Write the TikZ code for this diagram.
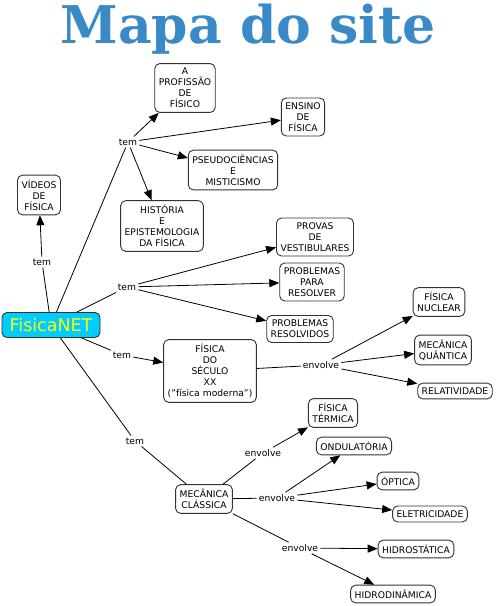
\documentclass[tikz,border=0pt]{standalone}
\usepackage{fontspec}
\setmainfont{DejaVu Sans}
\newfontfamily\titlefont{DejaVu Serif}
\usetikzlibrary{arrows.meta}
\definecolor{titleblue}{RGB}{58,138,200}
\definecolor{fncyan}{RGB}{0,204,255}
\definecolor{fnyellow}{RGB}{255,255,0}
\definecolor{boxline}{RGB}{50,50,50}
\tikzset{
  concept/.style={draw=boxline, line width=0.9pt, rounded corners=5pt, fill=white,
    align=center, inner xsep=4pt, inner ysep=4.5pt,
    font=\fontsize{9.2}{11}\selectfont},
  lbl/.style={inner sep=2pt, font=\fontsize{9.2}{11}\selectfont},
  conn/.style={line width=0.8pt, draw=black},
  arr/.style={conn, -{Triangle[length=10pt,width=8pt]}},
}
\begin{document}
\begin{tikzpicture}[x=1pt,y=-1pt]
\useasboundingbox (0,0) rectangle (498,606);
\node[anchor=base, text=titleblue, inner sep=0pt,
  font=\titlefont\bfseries\fontsize{52}{60}\selectfont] (title) at (248,43) {Mapa do site};

\node[concept, fill=fncyan, text=fnyellow, font=\fontsize{17.5}{20}\selectfont,
  inner xsep=2pt, inner ysep=3pt, minimum width=98pt, minimum height=25pt] (fn) at (51,325) {FisicaNET};

\node[concept] (videos) at (39,195) {VÍDEOS\\DE\\FÍSICA};
\node[concept] (prof) at (185,88) {A\\PROFISSÃO\\DE\\FÍSICO};
\node[concept] (ensino) at (303,117) {ENSINO\\DE\\FÍSICA};
\node[concept] (pseudo) at (233,170) {PSEUDOCIÊNCIAS\\E\\MISTICISMO};
\node[concept] (hist) at (162,226) {HISTÓRIA\\E\\EPISTEMOLOGIA\\DA FÍSICA};
\node[concept] (provas) at (315,237) {PROVAS\\DE\\VESTIBULARES};
\node[concept] (probres) at (312,282) {PROBLEMAS\\PARA\\RESOLVER};
\node[concept] (probsol) at (300,329) {PROBLEMAS\\RESOLVIDOS};
\node[concept] (sec) at (210,371) {FÍSICA\\DO\\SÉCULO\\XX\\("física moderna")};
\node[concept] (nuclear) at (439,302) {FÍSICA\\NUCLEAR};
\node[concept] (quant) at (443,350) {MECÂNICA\\QUÂNTICA};
\node[concept] (relat) at (455,391) {RELATIVIDADE};
\node[concept] (mc) at (204,499) {MECÂNICA\\CLÁSSICA};
\node[concept] (term) at (333,413) {FÍSICA\\TÉRMICA};
\node[concept] (ond) at (354,446) {ONDULATÓRIA};
\node[concept] (opt) at (398,481) {ÓPTICA};
\node[concept] (elet) at (430,514) {ELETRICIDADE};
\node[concept] (hest) at (416,549) {HIDROSTÁTICA};
\node[concept] (hdin) at (393,594) {HIDRODINÂMICA};

\node[lbl] (t0) at (42,262) {tem};
\node[lbl] (t1) at (128,142) {tem};
\node[lbl] (t2) at (127,287) {tem};
\node[lbl] (t3) at (122,355) {tem};
\node[lbl] (t4) at (135,441) {tem};
\node[lbl] (e1) at (321,365) {envolve};
\node[lbl] (e2) at (263,453) {envolve};
\node[lbl] (e3) at (277,498) {envolve};
\node[lbl] (e4) at (300,548) {envolve};

\draw[conn] (fn) -- (t0);
\draw[arr] (t0) -- (videos);
\draw[conn] (fn) -- (t1);
\draw[arr] (t1) -- (prof);
\draw[arr] (t1) -- (ensino);
\draw[arr] (t1) -- (pseudo);
\draw[arr] (t1) -- (hist);
\draw[conn] (fn) -- (t2);
\draw[arr] (t2) -- (provas);
\draw[arr] (t2) -- (probres);
\draw[arr] (t2) -- (probsol);
\draw[conn] (fn) -- (t3);
\draw[arr] (t3) -- (sec);
\draw[conn] (fn) -- (t4);
\draw[conn] (t4) -- (mc);
\draw[conn] (sec) -- (e1);
\draw[arr] (e1) -- (nuclear);
\draw[arr] (e1) -- (quant);
\draw[arr] (e1) -- (relat);
\draw[conn] (mc) -- (e2);
\draw[arr] (e2) -- (term);
\draw[conn] (mc) -- (e3);
\draw[arr] (e3) -- (ond);
\draw[arr] (e3) -- (opt);
\draw[arr] (e3) -- (elet);
\draw[conn] (mc) -- (e4);
\draw[arr] (e4) -- (hest);
\draw[arr] (e4) -- (hdin);
\end{tikzpicture}
\end{document}
